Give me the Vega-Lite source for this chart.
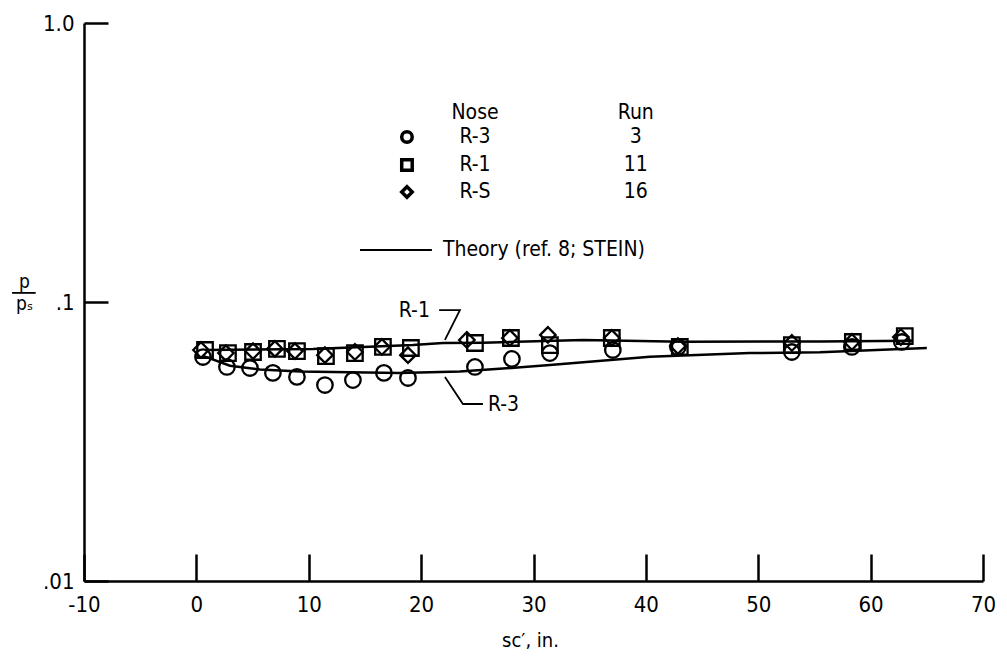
{
  "$schema": "https://vega.github.io/schema/vega-lite/v6.json",
  "width": 899,
  "height": 558,
  "autosize": {"type": "none"},
  "padding": {"left": 84, "top": 23, "right": 24, "bottom": 82},
  "background": "white",
  "config": {
    "view": {"stroke": null},
    "font": "Liberation Sans Narrow, DejaVu Sans Condensed, Arial Narrow, sans-serif",
    "axis": {
      "domainColor": "black", "domainWidth": 2.5, "tickColor": "black", "tickWidth": 2.5,
      "grid": false, "labelColor": "black", "labelFontSize": 22, "titleFontSize": 20,
      "titleColor": "black", "titleFontWeight": "normal", "labelFlush": false, "labelOverlap": false,
      "labelFont": "Liberation Sans Narrow, DejaVu Sans Condensed, Arial Narrow, sans-serif",
      "titleFont": "Liberation Sans Narrow, DejaVu Sans Condensed, Arial Narrow, sans-serif"
    },
    "text": {"font": "Liberation Sans Narrow, DejaVu Sans Condensed, Arial Narrow, sans-serif"}
  },
  "datasets": {
    "points": [
      {"series": "R-3", "s": 0.59, "p": 0.0635}, {"series": "R-3", "s": 2.72, "p": 0.0585},
      {"series": "R-3", "s": 4.77, "p": 0.058}, {"series": "R-3", "s": 6.81, "p": 0.0557},
      {"series": "R-3", "s": 8.95, "p": 0.0539}, {"series": "R-3", "s": 11.44, "p": 0.0504},
      {"series": "R-3", "s": 13.93, "p": 0.0525}, {"series": "R-3", "s": 16.69, "p": 0.0557},
      {"series": "R-3", "s": 18.83, "p": 0.0534}, {"series": "R-3", "s": 24.79, "p": 0.0585},
      {"series": "R-3", "s": 28.08, "p": 0.0625}, {"series": "R-3", "s": 31.46, "p": 0.0656},
      {"series": "R-3", "s": 37.06, "p": 0.0673}, {"series": "R-3", "s": 42.85, "p": 0.069},
      {"series": "R-3", "s": 52.99, "p": 0.0662}, {"series": "R-3", "s": 58.33, "p": 0.069},
      {"series": "R-3", "s": 62.78, "p": 0.0719},
      {"series": "R-1", "s": 0.77, "p": 0.0673}, {"series": "R-1", "s": 2.81, "p": 0.0656},
      {"series": "R-1", "s": 5.04, "p": 0.0662}, {"series": "R-1", "s": 7.17, "p": 0.0679},
      {"series": "R-1", "s": 8.95, "p": 0.0667}, {"series": "R-1", "s": 11.53, "p": 0.064},
      {"series": "R-1", "s": 14.11, "p": 0.0656}, {"series": "R-1", "s": 16.6, "p": 0.069},
      {"series": "R-1", "s": 19.09, "p": 0.0684}, {"series": "R-1", "s": 24.79, "p": 0.0713},
      {"series": "R-1", "s": 27.99, "p": 0.0743}, {"series": "R-1", "s": 31.46, "p": 0.0701},
      {"series": "R-1", "s": 36.97, "p": 0.0743}, {"series": "R-1", "s": 43.02, "p": 0.069},
      {"series": "R-1", "s": 52.99, "p": 0.0701}, {"series": "R-1", "s": 58.42, "p": 0.0719},
      {"series": "R-1", "s": 63.04, "p": 0.0755},
      {"series": "R-S", "s": 0.41, "p": 0.0673}, {"series": "R-S", "s": 2.63, "p": 0.0656},
      {"series": "R-S", "s": 5.04, "p": 0.0667}, {"series": "R-S", "s": 6.99, "p": 0.0679},
      {"series": "R-S", "s": 8.77, "p": 0.0667}, {"series": "R-S", "s": 11.44, "p": 0.0645},
      {"series": "R-S", "s": 14.11, "p": 0.0662}, {"series": "R-S", "s": 16.51, "p": 0.069},
      {"series": "R-S", "s": 18.83, "p": 0.0645}, {"series": "R-S", "s": 24.07, "p": 0.0731},
      {"series": "R-S", "s": 27.9, "p": 0.0743}, {"series": "R-S", "s": 31.28, "p": 0.0762},
      {"series": "R-S", "s": 36.97, "p": 0.0743}, {"series": "R-S", "s": 42.85, "p": 0.0695},
      {"series": "R-S", "s": 52.99, "p": 0.0713}, {"series": "R-S", "s": 58.33, "p": 0.0719},
      {"series": "R-S", "s": 62.69, "p": 0.0749}
    ],
    "theory": [
      {"curve": "R-1", "s": 0.77, "p": 0.0673}, {"curve": "R-1", "s": 10.37, "p": 0.0679},
      {"curve": "R-1", "s": 19.27, "p": 0.0701}, {"curve": "R-1", "s": 21.94, "p": 0.0713},
      {"curve": "R-1", "s": 25.5, "p": 0.0715}, {"curve": "R-1", "s": 34.4, "p": 0.0731},
      {"curve": "R-1", "s": 43.3, "p": 0.0721}, {"curve": "R-1", "s": 55.5, "p": 0.0722},
      {"curve": "R-1", "s": 63.75, "p": 0.0727},
      {"curve": "R-3", "s": 0.59, "p": 0.0641}, {"curve": "R-3", "s": 2.99, "p": 0.0591},
      {"curve": "R-3", "s": 5.66, "p": 0.0573}, {"curve": "R-3", "s": 9.22, "p": 0.0563},
      {"curve": "R-3", "s": 18.11, "p": 0.0557}, {"curve": "R-3", "s": 23.45, "p": 0.0563},
      {"curve": "R-3", "s": 31.46, "p": 0.0594}, {"curve": "R-3", "s": 40.36, "p": 0.0637},
      {"curve": "R-3", "s": 49.25, "p": 0.0656}, {"curve": "R-3", "s": 55.48, "p": 0.0661},
      {"curve": "R-3", "s": 65.0, "p": 0.0684}
    ],
    "leaders": [
      {"id": "R-1", "i": 0, "s": 21.6, "p": 0.0935}, {"id": "R-1", "i": 1, "s": 23.45, "p": 0.0935},
      {"id": "R-1", "i": 2, "s": 22.12, "p": 0.0731},
      {"id": "R-3", "i": 0, "s": 22.12, "p": 0.0539}, {"id": "R-3", "i": 1, "s": 23.72, "p": 0.0431},
      {"id": "R-3", "i": 2, "s": 25.5, "p": 0.0431},
      {"id": "legend", "i": 0, "s": 14.56, "p": 0.1536}, {"id": "legend", "i": 1, "s": 20.96, "p": 0.1536},
      {"id": "fraction", "i": 0, "s": -16.4, "p": 0.1078}, {"id": "fraction", "i": 1, "s": -14.3, "p": 0.1078}
    ],
    "labels": [
      {"label": "R-1", "s": 19.4, "p": 0.0925, "align": "center"},
      {"label": "R-3", "s": 25.94, "p": 0.0427, "align": "left"},
      {"label": "Nose", "s": 24.8, "p": 0.475, "align": "center"},
      {"label": "Run", "s": 39.1, "p": 0.475, "align": "center"},
      {"label": "R-3", "s": 24.8, "p": 0.3903, "align": "center"},
      {"label": "3", "s": 39.1, "p": 0.3903, "align": "center"},
      {"label": "R-1", "s": 24.8, "p": 0.3097, "align": "center"},
      {"label": "11", "s": 39.1, "p": 0.3097, "align": "center"},
      {"label": "R-S", "s": 24.8, "p": 0.2478, "align": "center"},
      {"label": "16", "s": 39.1, "p": 0.2478, "align": "center"},
      {"label": "Theory (ref. 8; STEIN)", "s": 21.94, "p": 0.1536, "align": "left"}
    ],
    "legendSymbols": [
      {"series": "R-3", "s": 18.74, "p": 0.3903},
      {"series": "R-1", "s": 18.74, "p": 0.3097},
      {"series": "R-S", "s": 18.74, "p": 0.2478}
    ]
  },
  "encoding": {
    "x": {
      "field": "s", "type": "quantitative",
      "scale": {"domain": [-10, 70], "nice": false, "zero": false},
      "axis": {
        "values": [-10, 0, 10, 20, 30, 40, 50, 60, 70], "tickSize": -27, "labelPadding": 40,
        "labelExpr": "datum.value < 0 ? '-10' : datum.label",
        "title": "sc′, in.", "titleX": 446, "titleY": 59, "titleBaseline": "middle", "titleAlign": "center"
      }
    },
    "y": {
      "field": "p", "type": "quantitative",
      "scale": {"type": "log", "domain": [0.01, 1], "nice": false},
      "axis": {
        "values": [0.01, 0.1, 1], "tickSize": -24, "labelPadding": 34,
        "labelExpr": "datum.value >= 0.99 ? '1.0' : (datum.value >= 0.099 ? '.1' : '.01')",
        "title": ["p", "pₛ"], "titleAngle": 0, "titleX": -60, "titleY": 258,
        "titleFontSize": 19, "titleAlign": "center", "titleBaseline": "middle", "titleLineHeight": 22
      }
    }
  },
  "layer": [
    {
      "data": {"name": "theory"},
      "mark": {"type": "line", "color": "black", "strokeWidth": 2.5},
      "encoding": {"detail": {"field": "curve"}}
    },
    {
      "data": {"name": "leaders"},
      "mark": {"type": "line", "color": "black", "strokeWidth": 1.8, "clip": false},
      "encoding": {"detail": {"field": "id"}, "order": {"field": "i", "type": "quantitative"}}
    },
    {
      "data": {"name": "points"},
      "mark": {"type": "point", "filled": false, "color": "black", "strokeWidth": 2.3, "size": 240, "opacity": 1},
      "encoding": {
        "shape": {"field": "series", "type": "nominal",
          "scale": {"domain": ["R-3", "R-1", "R-S"], "range": ["circle", "square", "diamond"]}, "legend": null}
      }
    },
    {
      "data": {"name": "legendSymbols"},
      "mark": {"type": "point", "filled": false, "color": "black", "strokeWidth": 3.5, "size": 110, "opacity": 1},
      "encoding": {
        "shape": {"field": "series", "type": "nominal",
          "scale": {"domain": ["R-3", "R-1", "R-S"], "range": ["circle", "square", "diamond"]}, "legend": null}
      }
    },
    {
      "data": {"name": "labels"},
      "transform": [{"filter": "datum.align == 'center'"}],
      "mark": {"type": "text", "fontSize": 21, "color": "black", "align": "center", "baseline": "middle"},
      "encoding": {"text": {"field": "label"}}
    },
    {
      "data": {"name": "labels"},
      "transform": [{"filter": "datum.align == 'left'"}],
      "mark": {"type": "text", "fontSize": 21, "color": "black", "align": "left", "baseline": "middle"},
      "encoding": {"text": {"field": "label"}}
    }
  ]
}
